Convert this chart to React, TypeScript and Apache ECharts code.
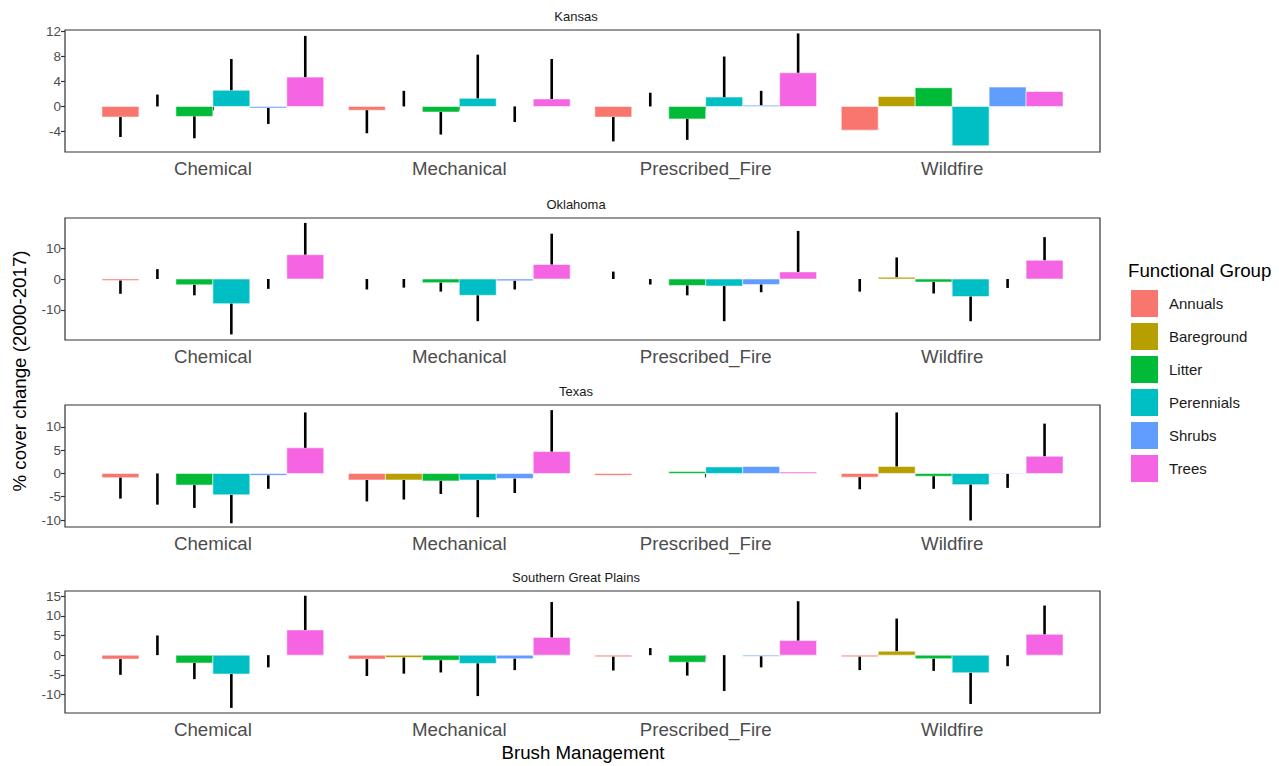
import React, { useEffect, useRef } from "react";
import * as echarts from "echarts";

const categories = ["Chemical", "Mechanical", "Prescribed_Fire", "Wildfire"];
const groups = ["Annuals", "Bareground", "Litter", "Perennials", "Shrubs", "Trees"];
const groupColors = ["#F8766D", "#B79F00", "#00BA38", "#00BFC4", "#619CFF", "#F564E3"];
const regions = ["Kansas", "Oklahoma", "Texas", "Southern Great Plains"];

// mean cover change: rows = groups, columns = categories (null = no bar)
const kansasMeans = [
  [-1.7, -0.6, -1.7, -3.8],
  [null, null, null, 1.6],
  [-1.6, -0.9, -2.0, 3.0],
  [2.6, 1.3, 1.5, -6.3],
  [-0.25, null, 0.2, 3.1],
  [4.7, 1.2, 5.4, 2.4],
];
// error bar end points (null = no error bar)
const kansasTips = [
  [-4.9, -4.3, -5.6, null],
  [1.9, 2.5, 2.2, null],
  [-5.1, -4.5, -5.35, null],
  [7.6, 8.3, 8.0, null],
  [-2.8, -2.5, 2.5, null],
  [11.3, 7.6, 11.7, null],
];
const oklahomaMeans = [
  [-0.5, null, null, null],
  [null, null, null, 0.6],
  [-1.9, -1.2, -2.1, -1.0],
  [-8.0, -5.3, -2.3, -5.7],
  [null, -0.6, -1.8, null],
  [7.9, 4.7, 2.3, 6.1],
];
const oklahomaTips = [
  [-4.8, -3.4, 2.4, -4.1],
  [3.2, -2.8, -1.8, 7.0],
  [-5.3, -4.1, -5.3, -4.7],
  [-18.0, -13.7, -13.7, -13.7],
  [-3.2, -3.4, -4.3, -2.9],
  [18.2, 14.7, 15.6, 13.6],
];
const texasMeans = [
  [-0.9, -1.4, -0.4, -0.8],
  [null, -1.4, null, 1.5],
  [-2.5, -1.6, 0.4, -0.6],
  [-4.6, -1.4, 1.4, -2.4],
  [-0.4, -1.1, 1.5, -0.1],
  [5.5, 4.7, 0.3, 3.7],
];
const texasTips = [
  [-5.4, -6.0, null, -3.4],
  [-6.7, -5.6, null, 13.1],
  [-7.4, -4.4, null, -3.3],
  [-10.7, -9.4, null, -10.1],
  [-3.3, -4.2, null, -3.1],
  [13.1, 13.6, null, 10.7],
];
const sgpMeans = [
  [-1.0, -1.0, -0.4, -0.4],
  [null, -0.6, null, 1.0],
  [-2.0, -1.3, -1.8, -0.9],
  [-4.8, -2.1, null, -4.5],
  [null, -0.9, -0.3, null],
  [6.4, 4.5, 3.7, 5.3],
];
const sgpTips = [
  [-5.0, -5.3, -3.9, -3.8],
  [5.0, -4.7, 1.8, 9.3],
  [-6.1, -4.4, -5.2, -4.0],
  [-13.4, -10.4, -9.1, -12.4],
  [-3.1, -3.8, -3.1, -2.8],
  [15.1, 13.5, 13.7, 12.6],
];

const yTicks = [
  [-4, 0, 4, 8, 12],
  [-10, 0, 10],
  [-10, -5, 0, 5, 10],
  [-10, -5, 0, 5, 10, 15],
];
const yRanges = [
  [-7.3, 12.25],
  [-19.8, 19.8],
  [-11.5, 14.7],
  [-14.7, 16.3],
];

const allMeans = [kansasMeans, oklahomaMeans, texasMeans, sgpMeans];
const allTips = [kansasTips, oklahomaTips, texasTips, sgpTips];

const FONT = "'Liberation Sans', Arial, Helvetica, sans-serif";
const gridTops = [30, 218, 405, 591];
const GRID_H = 122;
const GRID_LEFT = 65;
const GRID_RIGHT = 179;

export default function App() {
  const ref = useRef<HTMLDivElement>(null);
  useEffect(() => {
    if (!ref.current) return;
    const chart = echarts.init(ref.current, null, { renderer: "svg" });
    const dodge = 0.9 / groups.length;
    const grid: any[] = [];
    const xAxis: any[] = [];
    const yAxis: any[] = [];
    const series: any[] = [];
    regions.forEach((reg, r) => {
      grid.push({
        left: GRID_LEFT,
        right: GRID_RIGHT,
        top: gridTops[r],
        height: GRID_H,
        show: true,
        borderColor: "#333333",
        borderWidth: 1.2,
        backgroundColor: "transparent",
      });
      xAxis.push({
        type: "value",
        gridIndex: r,
        min: 0.4,
        max: 4.6,
        splitLine: { show: false },
        axisLine: { show: false },
        axisTick: { show: true, customValues: [1, 2, 3, 4], length: 4, lineStyle: { color: "#333", width: 1.2 } },
        axisLabel: {
          customValues: [1, 2, 3, 4],
          formatter: (v: number) => categories[Math.round(v) - 1] ?? "",
          color: "#4D4D4D",
          fontSize: 18.7,
          fontFamily: FONT,
          margin: 7,
        },
      });
      yAxis.push({
        type: "value",
        gridIndex: r,
        min: yRanges[r][0],
        max: yRanges[r][1],
        splitLine: { show: false },
        axisLine: { show: false },
        axisTick: { show: true, customValues: yTicks[r], length: 4, lineStyle: { color: "#333", width: 1.2 } },
        axisLabel: {
          customValues: yTicks[r],
          color: "#4D4D4D",
          fontSize: 13.5,
          fontFamily: FONT,
          margin: 4,
        },
      });
      groups.forEach((g, gi) => {
        const off = (gi - 2.5) * dodge;
        const hw = dodge / 2;
        const color = groupColors[gi];
        const data = categories.map((c, ci) => {
          const m = allMeans[r][gi][ci];
          const t = allTips[r][gi][ci];
          const mean = m == null ? 0 : m;
          const tip = t == null ? mean : t;
          return [ci + 1, mean, tip];
        });
        series.push({
          type: "custom",
          name: g,
          xAxisIndex: r,
          yAxisIndex: r,
          itemStyle: { color },
          encode: { x: 0, y: 1 },
          clip: true,
          data,
          renderItem: (params: any, api: any) => {
            const x = api.value(0) + off;
            const mean = api.value(1);
            const tip = api.value(2);
            const p0 = api.coord([x - hw, 0]);
            const p1 = api.coord([x + hw, mean]);
            const children: any[] = [];
            if (mean !== 0) {
              children.push({
                type: "rect",
                shape: {
                  x: p0[0],
                  y: Math.min(p0[1], p1[1]),
                  width: p1[0] - p0[0],
                  height: Math.abs(p1[1] - p0[1]),
                },
                style: { fill: color, stroke: "rgba(255,255,255,0.55)", lineWidth: 1 },
              });
            }
            if (tip !== mean) {
              const a = api.coord([x, mean]);
              const b = api.coord([x, tip]);
              children.push({
                type: "line",
                shape: { x1: a[0], y1: a[1], x2: b[0], y2: b[1] },
                style: { stroke: "#000000", lineWidth: 2.6 },
                z2: 10,
              });
            }
            return { type: "group", children };
          },
        });
      });
    });

    const graphic: any[] = [];
    regions.forEach((reg, r) => {
      graphic.push({
        type: "text",
        x: 576,
        y: gridTops[r] - 14,
        style: {
          text: reg,
          fill: "#1A1A1A",
          font: `13px ${FONT}`,
          textAlign: "center",
          textVerticalAlign: "middle",
        },
      });
    });
    graphic.push({
      type: "text",
      x: 19,
      y: 371,
      rotation: Math.PI / 2,
      style: {
        text: "% cover change (2000-2017)",
        fill: "#000000",
        font: `18.7px ${FONT}`,
        textAlign: "center",
        textVerticalAlign: "middle",
      },
    });
    graphic.push({
      type: "text",
      x: 583,
      y: 752,
      style: {
        text: "Brush Management",
        fill: "#000000",
        font: `18.7px ${FONT}`,
        textAlign: "center",
        textVerticalAlign: "middle",
      },
    });
    graphic.push({
      type: "text",
      x: 1128,
      y: 270,
      style: {
        text: "Functional Group",
        fill: "#000000",
        font: `18.7px ${FONT}`,
        textAlign: "left",
        textVerticalAlign: "middle",
      },
    });

    chart.setOption({
      animation: false,
      backgroundColor: "#ffffff",
      grid,
      xAxis,
      yAxis,
      series,
      graphic,
      legend: {
        data: groups.map((g, i) => ({ name: g, itemStyle: { color: groupColors[i] } })),
        orient: "vertical",
        left: 1131,
        top: 290,
        padding: 0,
        icon: "rect",
        itemWidth: 27,
        itemHeight: 27,
        itemGap: 6,
        selectedMode: false,
        textStyle: { fontSize: 15, color: "#1A1A1A", fontFamily: FONT, padding: [0, 0, 0, 6] },
      },
    });
    return () => chart.dispose();
  }, []);
  return (
    <div
      ref={ref}
      style={{ position: "fixed", left: 0, top: 0, width: 1279, height: 766 }}
    />
  );
}
